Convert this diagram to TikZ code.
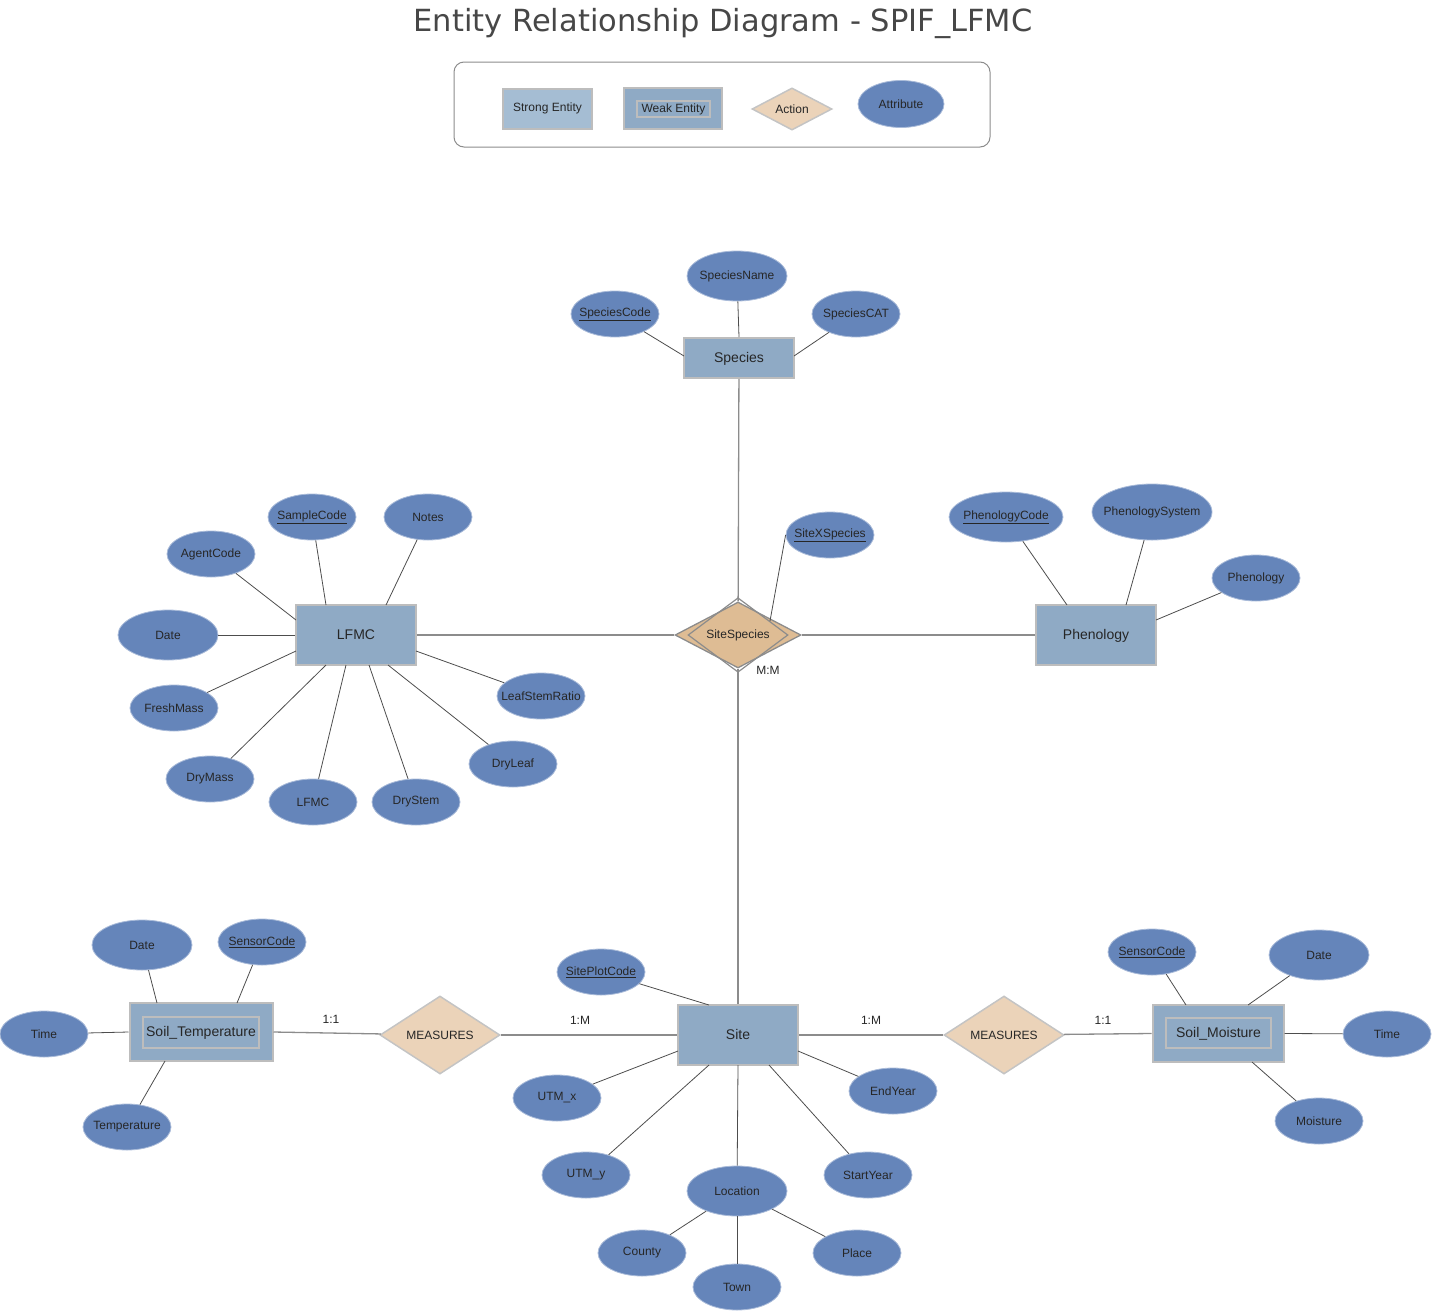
\documentclass[tikz,border=0pt]{standalone}
\usepackage{fontspec}
\setmainfont{Liberation Sans}
\newfontfamily\titlefam{DejaVu Sans}
\usetikzlibrary{shapes.geometric,calc}
\definecolor{attrblue}{HTML}{6585BA}
\definecolor{attredge}{HTML}{A9BBD9}
\definecolor{entblue}{HTML}{8FAAC5}
\definecolor{strongblue}{HTML}{A5BDD3}
\definecolor{entedge}{HTML}{BDBDBD}
\definecolor{reltan}{HTML}{EBD3B9}
\definecolor{reltandark}{HTML}{DEBC94}
\definecolor{reledge}{HTML}{C4C4C4}
\definecolor{txt}{HTML}{262626}
\definecolor{alink}{HTML}{4D4D4D}
\definecolor{mlink}{HTML}{8C8C8C}
\newcommand\attrfont{\fontsize{12}{14}\selectfont}
\newcommand\entfont{\fontsize{14}{16}\selectfont}
\tikzset{
  attr/.style={ellipse, fill=attrblue, draw=attredge, line width=0.8pt, minimum width=88pt, minimum height=46pt, inner xsep=-25pt, inner ysep=0pt, font=\attrfont, text=txt},
  bigattr/.style={attr, minimum width=100pt, minimum height=50pt},
  ent/.style={rectangle, fill=entblue, draw=entedge, line width=2pt, minimum width=120pt, minimum height=60pt, inner sep=0pt, text height=10pt, text depth=1pt, font=\entfont, text=txt},
  weakouter/.style={rectangle, fill=entblue, draw=entedge, line width=2pt, inner sep=0pt},
  weakinner/.style={rectangle, draw=entedge, line width=1.5pt, inner sep=0pt, text height=10pt, text depth=2pt, font=\entfont, text=txt},
  rel/.style={diamond, fill=reltan, draw=reledge, line width=1.5pt, minimum width=120pt, minimum height=78pt, inner sep=0pt, font=\attrfont, text=txt},
  alnk/.style={draw=alink, line width=0.8pt},
  mlnk/.style={draw=mlink, line width=1.3pt},
  card/.style={font=\attrfont, text=txt, inner sep=0pt},
}
\begin{document}
\begin{tikzpicture}[x=1pt,y=-1pt]
\useasboundingbox (0,0) rectangle (1432,1312);
% title
\node[font=\titlefam\fontsize{30.5}{34}\selectfont, text=txt!85] (title) at (723,24) {Entity Relationship Diagram - SPIF\_LFMC};
% legend
\node[draw=mlink, line width=1pt, rounded corners=10pt, minimum width=536pt, minimum height=85pt, inner sep=0pt] (legend) at (722,104.5) {};
\node[rectangle, fill=strongblue, draw=entedge, line width=2pt, minimum width=89pt, minimum height=40pt, inner sep=0pt, font=\attrfont, text=txt] (lstrong) at (547.5,108.5) {Strong Entity};
\node[weakouter, minimum width=98pt, minimum height=41pt] (lweak) at (673,108.5) {};
\node[weakinner, line width=1.2pt, minimum width=73pt, minimum height=16pt, text height=8.5pt, text depth=2.5pt, font=\attrfont] (lweakin) at (673.5,109) {Weak Entity};
\node[rel, minimum width=80pt, minimum height=42pt] (laction) at (792,109) {Action};
\node[attr, minimum width=86pt, minimum height=47pt] (lattr) at (901,104) {Attribute};

% ---- Species
\node[ent, minimum width=110pt, minimum height=40pt] (species) at (739,358) {Species};
\node[bigattr] (speciesname) at (737,276) {SpeciesName};
\node[attr] (speciescode) at (615,314) {\underline{SpeciesCode}};
\node[attr] (speciescat) at (856,314) {SpeciesCAT};
\draw[alnk] (speciescode) -- ($(species.center)+(-55,-2)$);
\draw[alnk] (speciesname) -- (species.north);
\draw[alnk] (speciescat) -- ($(species.center)+(55,-2)$);

% ---- SiteSpecies
\node[diamond, fill=reltandark, draw=mlink, line width=1.3pt, minimum width=126pt, minimum height=66pt, inner sep=0pt] (sitesp) at (738,635) {};
\node[diamond, draw=mlink, line width=1.2pt, minimum width=100pt, minimum height=38pt, inner sep=0pt, font=\attrfont, text=txt] (sitespin) at (738,635) {SiteSpecies};
\node[attr] (sitexsp) at (830,535) {\underline{SiteXSpecies}};
\draw[alnk] (sitexsp.west) -- ($(sitesp.center)+(32,-14)$);
\node[card] (mm) at (768,670) {M:M};

% ---- LFMC
\node[ent] (lfmc) at (356,635) {LFMC};
\node[attr] (agentcode) at (211,554) {AgentCode};
\node[attr] (samplecode) at (312,517) {\underline{SampleCode}};
\node[attr] (notes) at (428,517) {Notes};
\node[bigattr] (date1) at (168,635) {Date};
\node[attr] (freshmass) at (174,708) {FreshMass};
\node[attr] (drymass) at (210,779) {DryMass};
\node[attr] (lfmcattr) at (313,802) {LFMC};
\node[attr] (drystem) at (416,802) {DryStem};
\node[attr] (dryleaf) at (513,764) {DryLeaf};
\node[attr] (leafstem) at (541,696) {LeafStemRatio};
\draw[alnk] (agentcode) -- ($(lfmc.center)+(-60,-15)$);
\draw[alnk] (samplecode) -- ($(lfmc.center)+(-30,-30)$);
\draw[alnk] (notes) -- ($(lfmc.center)+(30,-30)$);
\draw[alnk] (date1) -- (lfmc.west);
\draw[alnk] (freshmass) -- ($(lfmc.center)+(-60,16)$);
\draw[alnk] (drymass) -- ($(lfmc.center)+(-30,30)$);
\draw[alnk] (lfmcattr) -- ($(lfmc.center)+(-10,30)$);
\draw[alnk] (drystem) -- ($(lfmc.center)+(13,30)$);
\draw[alnk] (dryleaf) -- ($(lfmc.center)+(32,30)$);
\draw[alnk] (leafstem) -- ($(lfmc.center)+(60,16)$);

% ---- Phenology
\node[ent] (phen) at (1096,635) {Phenology};
\node[attr, minimum width=114pt, minimum height=50pt] (phencode) at (1006,517) {\underline{PhenologyCode}};
\node[attr, minimum width=120pt, minimum height=56pt] (phensys) at (1152,512) {PhenologySystem};
\node[attr] (phenattr) at (1256,578) {Phenology};
\draw[alnk] (phencode) -- ($(phen.center)+(-29,-30)$);
\draw[alnk] (phensys) -- ($(phen.center)+(30,-30)$);
\draw[alnk] (phenattr) -- ($(phen.center)+(60,-15)$);

% ---- Site
\node[ent] (site) at (738,1035) {Site};
\node[attr] (siteplot) at (601,972) {\underline{SitePlotCode}};
\node[attr] (utmx) at (557,1098) {UTM\_x};
\node[attr] (utmy) at (586,1175) {UTM\_y};
\node[bigattr] (location) at (737,1191) {Location};
\node[attr] (startyear) at (868,1175) {StartYear};
\node[attr] (endyear) at (893,1091) {EndYear};
\node[attr] (county) at (642,1253) {County};
\node[attr] (town) at (737,1287) {Town};
\node[attr] (place) at (857,1253) {Place};
\draw[alnk] (siteplot) -- ($(site.center)+(-29,-30)$);
\draw[alnk] (utmx) -- ($(site.center)+(-60,16)$);
\draw[alnk] (utmy) -- ($(site.center)+(-29,30)$);
\draw[alnk] (location) -- ($(site.center)+(0,30)$);
\draw[alnk] (startyear) -- ($(site.center)+(31,30)$);
\draw[alnk] (endyear) -- ($(site.center)+(60,16)$);
\draw[alnk] (location) -- (county);
\draw[alnk] (location) -- (town);
\draw[alnk] (location) -- (place);

% ---- MEASURES
\node[rel] (meas1) at (440,1035) {MEASURES};
\node[rel] (meas2) at (1004,1035) {MEASURES};

% ---- Soil_Temperature
\node[weakouter, minimum width=143pt, minimum height=58pt] (soiltemp) at (201,1032) {};
\node[weakinner, minimum width=116pt, minimum height=31pt] (soiltempin) at (201,1032.5) {Soil\_Temperature};
\node[bigattr] (date2) at (142,945) {Date};
\node[attr] (sensor1) at (262,942) {\underline{SensorCode}};
\node[attr] (time1) at (44,1034) {Time};
\node[attr] (temp) at (127,1127) {Temperature};
\draw[alnk] (date2) -- ($(soiltemp.center)+(-44,-29)$);
\draw[alnk] (sensor1) -- ($(soiltemp.center)+(36,-29)$);
\draw[alnk] (time1) -- (soiltemp.west);
\draw[alnk] (temp) -- ($(soiltemp.center)+(-36,29)$);

% ---- Soil_Moisture
\node[weakouter, minimum width=131pt, minimum height=57pt] (soilmoist) at (1218,1033.5) {};
\node[weakinner, minimum width=105pt, minimum height=30pt] (soilmoistin) at (1218.5,1033) {Soil\_Moisture};
\node[attr] (sensor2) at (1152,952) {\underline{SensorCode}};
\node[bigattr] (date3) at (1319,955) {Date};
\node[attr] (time2) at (1387,1034) {Time};
\node[attr] (moist) at (1319,1121) {Moisture};
\draw[alnk] (sensor2) -- ($(soilmoist.center)+(-32,-28.5)$);
\draw[alnk] (date3) -- ($(soilmoist.center)+(30,-28.5)$);
\draw[alnk] (time2) -- (soilmoist.east);
\draw[alnk] (moist) -- ($(soilmoist.center)+(34,28.5)$);

% ---- main connectors
\draw[mlnk] (species) -- (sitesp);
\draw[mlnk] (lfmc) -- (sitesp);
\draw[mlnk] (sitesp) -- (phen);
\draw[mlnk] (sitesp) -- (site);
\draw[mlnk] (meas1) -- (site);
\draw[mlnk] (site) -- (meas2);
\draw[mlnk] (meas1) -- (soiltemp.east);
\draw[mlnk] (meas2) -- (soilmoist.west);
\node[card] (c1) at (331,1019) {1:1};
\node[card] (c2) at (580,1020) {1:M};
\node[card] (c3) at (871,1020) {1:M};
\node[card] (c4) at (1103,1020) {1:1};
\end{tikzpicture}
\end{document}
